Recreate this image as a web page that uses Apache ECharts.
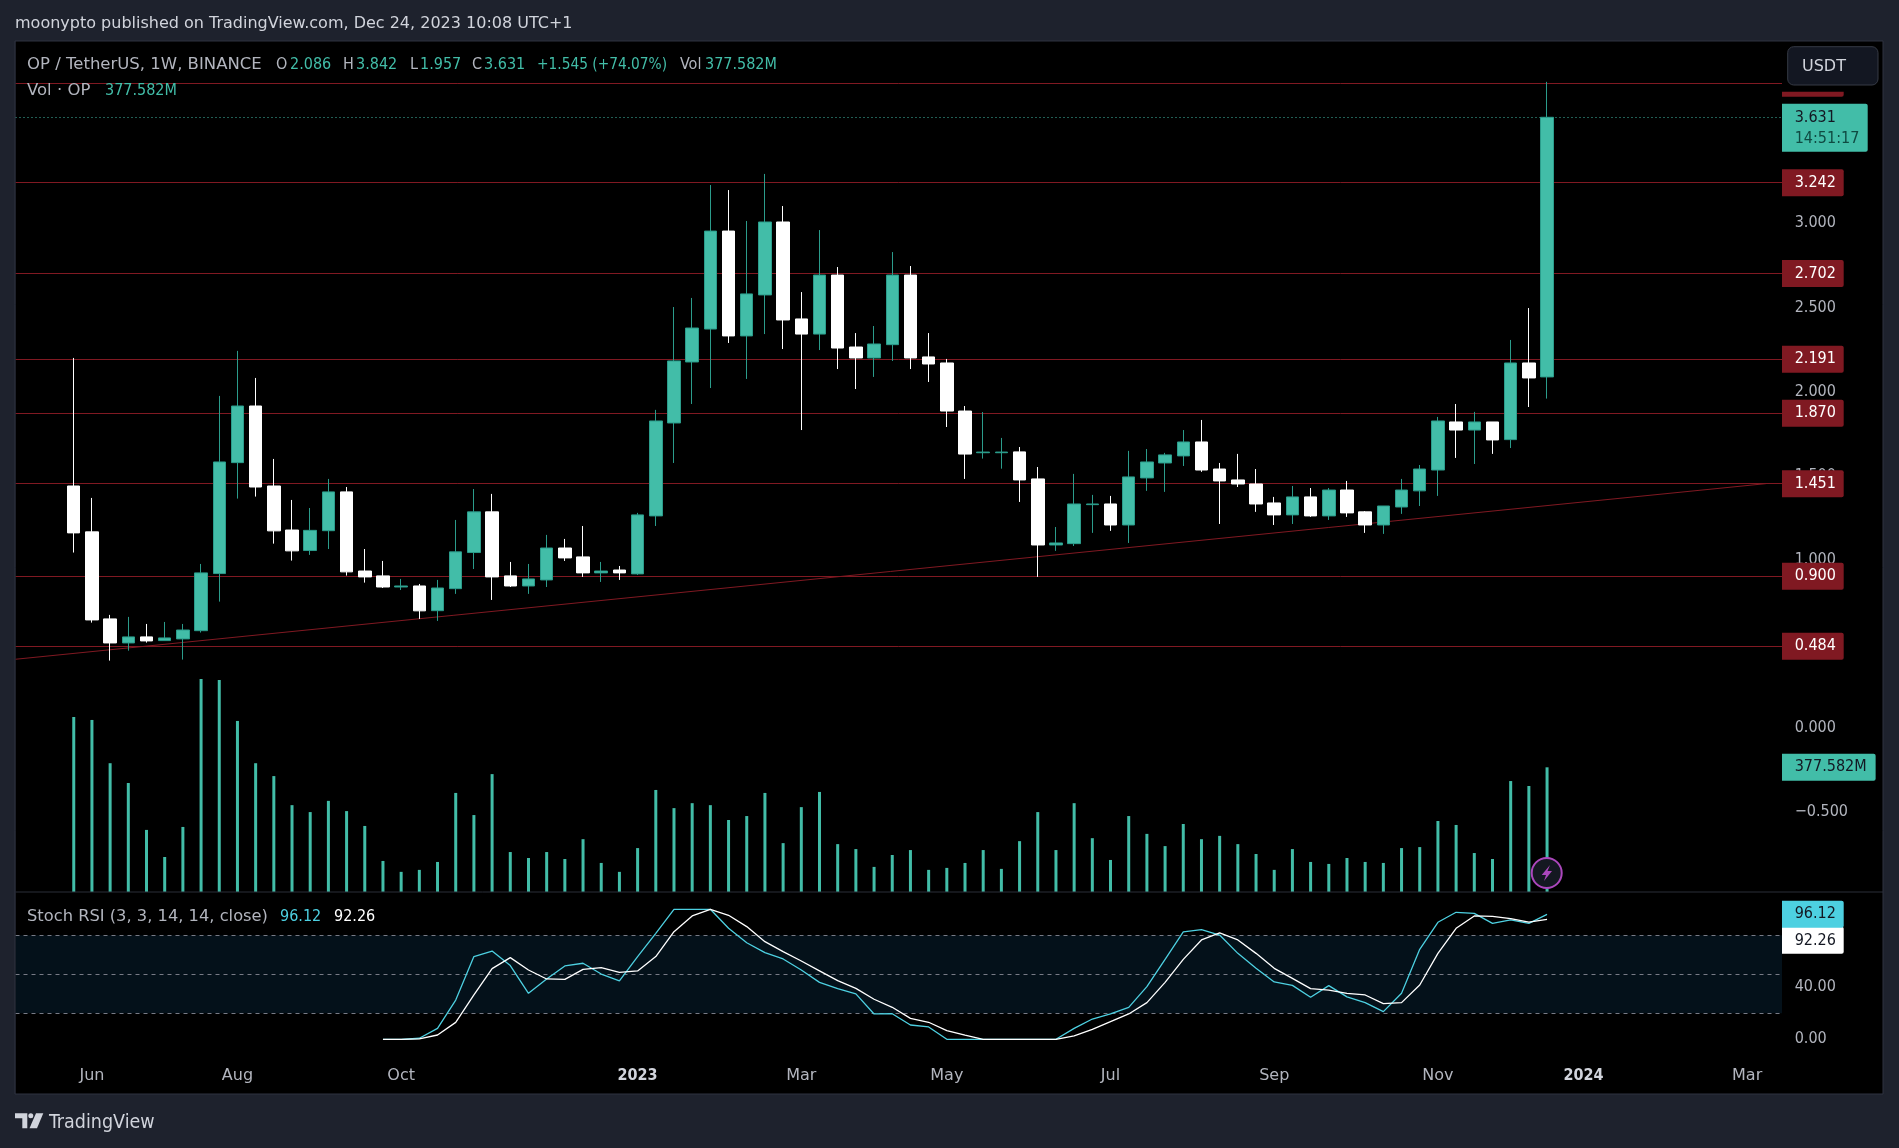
<!DOCTYPE html>
<html>
<head>
<meta charset="utf-8">
<title>OP / TetherUS</title>
<script src="https://cdn.jsdelivr.net/npm/echarts@6/dist/echarts.min.js"></script>
<style>
html, body { margin: 0; padding: 0; background: #1e222d; }
#chart { width: 1899px; height: 1148px; }
</style>
</head>
<body>
<div id="chart"></div>
<script>
var weeks = [
    '2022-05-30','2022-06-06','2022-06-13','2022-06-20','2022-06-27','2022-07-04','2022-07-11','2022-07-18','2022-07-25',
    '2022-08-01','2022-08-08','2022-08-15','2022-08-22','2022-08-29','2022-09-05','2022-09-12','2022-09-19','2022-09-26',
    '2022-10-03','2022-10-10','2022-10-17','2022-10-24','2022-10-31','2022-11-07','2022-11-14','2022-11-21','2022-11-28',
    '2022-12-05','2022-12-12','2022-12-19','2022-12-26','2023-01-02','2023-01-09','2023-01-16','2023-01-23','2023-01-30',
    '2023-02-06','2023-02-13','2023-02-20','2023-02-27','2023-03-06','2023-03-13','2023-03-20','2023-03-27','2023-04-03',
    '2023-04-10','2023-04-17','2023-04-24','2023-05-01','2023-05-08','2023-05-15','2023-05-22','2023-05-29','2023-06-05',
    '2023-06-12','2023-06-19','2023-06-26','2023-07-03','2023-07-10','2023-07-17','2023-07-24','2023-07-31','2023-08-07',
    '2023-08-14','2023-08-21','2023-08-28','2023-09-04','2023-09-11','2023-09-18','2023-09-25','2023-10-02','2023-10-09',
    '2023-10-16','2023-10-23','2023-10-30','2023-11-06','2023-11-13','2023-11-20','2023-11-27','2023-12-04','2023-12-11','2023-12-18'
];

var opens = [
    1.437,1.164,0.646,0.503,0.539,0.517,0.527,0.576,0.916,1.576,1.913,1.437,1.175,1.053,1.171,1.402,0.931,0.902,0.836,0.842,
    0.695,0.826,1.041,1.283,0.902,0.842,0.878,1.068,1.015,0.920,0.937,0.914,1.259,1.812,2.175,2.371,2.954,2.330,2.574,3.008,
    2.431,2.341,2.692,2.264,2.199,2.278,2.692,2.205,2.169,1.883,1.635,1.635,1.640,1.479,1.086,1.094,1.326,1.330,1.205,1.485,
    1.574,1.616,1.699,1.538,1.473,1.449,1.336,1.265,1.372,1.259,1.413,1.283,1.205,1.312,1.408,1.532,1.818,1.770,1.818,1.713,2.169,2.086
];
var closes = [
    1.158,0.640,0.503,0.539,0.515,0.533,0.580,0.920,1.580,1.913,1.431,1.170,1.051,1.173,1.402,0.926,0.896,0.836,0.842,0.694,
    0.830,1.045,1.283,0.896,0.842,0.884,1.068,1.009,0.920,0.931,0.920,1.265,1.824,2.181,2.377,2.954,2.330,2.580,3.008,2.425,
    2.341,2.692,2.258,2.199,2.282,2.692,2.199,2.163,1.883,1.627,1.639,1.639,1.473,1.086,1.098,1.330,1.330,1.205,1.491,1.580,
    1.622,1.699,1.532,1.467,1.449,1.330,1.265,1.372,1.259,1.413,1.277,1.205,1.318,1.413,1.538,1.824,1.770,1.818,1.711,2.169,2.080,3.631
];
var lows = [
    1.041,0.624,0.398,0.457,0.505,0.517,0.404,0.565,0.749,1.362,1.374,1.094,0.993,1.027,1.062,0.904,0.862,0.830,0.818,0.646,
    0.634,0.795,0.943,0.759,0.836,0.795,0.836,0.991,0.896,0.866,0.878,0.908,1.199,1.574,1.925,2.020,2.288,2.074,2.341,2.252,
    1.770,2.246,2.133,2.014,2.086,2.181,2.133,2.056,1.788,1.479,1.600,1.540,1.342,0.896,1.051,1.080,1.158,1.170,1.098,1.408,
    1.402,1.556,1.521,1.211,1.431,1.283,1.205,1.211,1.253,1.235,1.253,1.158,1.152,1.271,1.318,1.378,1.604,1.568,1.628,1.663,1.907,1.957
];
var highs = [
    2.199,1.366,0.670,0.658,0.616,0.628,0.616,0.973,1.973,2.241,2.080,1.598,1.354,1.306,1.479,1.431,1.062,0.991,0.884,0.854,
    0.878,1.235,1.419,1.390,0.985,0.973,1.146,1.122,1.199,0.985,0.961,1.277,1.890,2.502,2.556,3.228,3.198,3.014,3.294,3.103,
    2.591,2.960,2.740,2.347,2.389,2.829,2.746,2.347,2.193,1.913,1.877,1.723,1.669,1.550,1.193,1.509,1.384,1.378,1.646,1.657,
    1.634,1.770,1.830,1.574,1.628,1.538,1.372,1.437,1.425,1.425,1.467,1.288,1.318,1.479,1.562,1.848,1.925,1.878,1.818,2.306,2.496,3.842
];
var volumes = [
    530,521,390,330,188,106,197,645,642,518,390,351,263,242,276,245,200,94,61,67,
    91,300,233,357,121,103,121,100,160,88,61,133,309,254,269,263,218,230,300,148,
    257,303,145,130,76,112,127,67,73,88,127,70,154,242,127,269,163,97,230,176,
    139,206,160,170,145,115,67,130,91,85,103,91,88,133,136,215,203,118,100,336,321,377.582
];

// stoch rsi starts at the 18th week
var stochStart = 17;
var stochK = [
    0,0,0.8,8.4,30.2,63.6,67.9,56.7,35.4,46.4,56.4,58.5,50.2,44.9,63.6,81.5,100,100,100,85.4,
    74.3,66.7,61.8,53.3,43.8,39,34.9,19.5,19.7,11,9.5,0,0,0,0,0,0,0,8.4,15.6,
    19.5,24.6,40.5,61.5,82.6,84.3,80.2,66.1,54.6,44.1,41.5,32.3,41.3,32.6,28.2,21.3,35.4,69.2,90,97.7,
    96.9,89.2,91.8,89.2,96.12
];
var stochD = [
    0,0,0.3,3.3,13,34.1,54.4,62.8,53.3,46.4,46.1,53.8,55.1,51.5,52.6,63.6,82.8,94.9,100,95.4,
    86.7,75.1,67.4,60.2,52.6,45.1,39.2,30.8,24.6,16.1,13.1,6.7,3.3,0,0,0,0,0,2.6,7.7,
    13.6,19.5,28.2,43.8,61.5,76.4,81.8,76.4,66.1,54.6,46.9,39,37.9,35.4,34.1,27.4,28.2,41.8,66.1,85.4,
    94.9,94.6,92.8,90.2,92.26
];

var levels = [3.833, 3.242, 2.702, 2.191, 1.870, 1.451, 0.900, 0.484];
var trendDates = ['2022-05-07T14:00:00Z', '2024-03-11T05:00:00Z'];
var trendPrices = [0.406, 1.451];

var tickDates = ['2022-06-06','2022-08-01','2022-10-03','2023-01-02','2023-03-06','2023-05-01','2023-07-03','2023-09-04','2023-11-06','2024-01-01','2024-03-04'];
var tickLabels = ['Jun','Aug','Oct','2023','Mar','May','Jul','Sep','Nov','2024','Mar'];
var priceTicks = [-0.5, 0, 0.5, 1, 1.5, 2, 2.5, 3];
var stochTicks = [0, 40, 80];

// digits run narrow in the reference, letters wider
var FONT = '"DejaVu Sans Condensed", "DejaVu Sans", sans-serif';
var WORD_FONT = '"DejaVu Sans", sans-serif';
var FONT_SIZE = 16;
var TEAL = '#42bda8';
var TEAL_DARK = '#2b9c8b';
var RED = '#801922';
var GREY = '#b2b5be';
var BLUE = '#4dd0e1';

// x axis runs in weeks from the first candle
function weekNo(date) {
    return (Date.parse(date) - Date.parse(weeks[0])) / (7 * 24 * 3600 * 1000);
}
var xMin = weekNo('2022-05-07T14:00:00Z');
var xMax = weekNo('2024-03-17T10:00:00Z');
var tickWeeks = tickDates.map(weekNo);

function tagLabel(text, bg, color, offsetY) {
    return {
        show: true,
        position: 'end',
        distance: 0,
        formatter: text,
        backgroundColor: bg,
        color: color,
        fontFamily: FONT,
        fontSize: FONT_SIZE,
        lineHeight: 17,
        padding: [6, 8, 4, 12.7],
        width: 41,
        borderRadius: [0, 2, 2, 0],
        offset: [0, offsetY || 0]
    };
}

var levelLines = levels.map(function (v) {
    return {
        yAxis: v,
        lineStyle: { color: RED, width: 1, type: 'solid' },
        label: tagLabel(v.toFixed(3), RED, '#ffffff')
    };
});
// last price: dotted line and the two line tag with the countdown
levelLines.push({
    yAxis: closes[closes.length - 1],
    lineStyle: { color: TEAL, width: 1, type: [1, 3] },
    label: {
        show: true,
        position: 'end',
        distance: 0,
        formatter: '{a|3.631}\n{b|14:51:17}',
        backgroundColor: TEAL,
        padding: [4, 8, 2, 12.7],
        width: 65,
        borderRadius: [0, 2, 2, 0],
        offset: [0, 10.5],
        rich: {
            a: { color: '#131722', fontFamily: FONT, fontSize: FONT_SIZE, lineHeight: 21 },
            b: { color: '#0f4a42', fontFamily: FONT, fontSize: FONT_SIZE, lineHeight: 21 }
        }
    }
});

var option = {
    animation: false,
    backgroundColor: 'transparent',
    textStyle: { fontFamily: FONT },
    grid: [
        { left: 15.5, width: 1766.5, top: 41, height: 851 },
        { left: 15.5, width: 1766.5, top: 892, height: 160 }
    ],
    xAxis: [
        { type: 'value', gridIndex: 0, min: xMin, max: xMax, show: false },
        {
            type: 'value', gridIndex: 1, min: xMin, max: xMax,
            axisLine: { show: false },
            axisTick: { show: false },
            splitLine: { show: false },
            axisLabel: {
                customValues: tickWeeks,
                margin: 16,
                color: GREY,
                fontFamily: WORD_FONT,
                fontSize: FONT_SIZE,
                formatter: function (value) {
                    var label = tickLabels[tickWeeks.indexOf(value)];
                    return label.length === 4 ? '{year|' + label + '}' : label;
                },
                rich: { year: { color: '#d1d4dc', fontFamily: FONT, fontSize: FONT_SIZE, fontWeight: 'bold' } }
            }
        }
    ],
    yAxis: [
        {
            type: 'value', gridIndex: 0, position: 'right', min: -0.979, max: 4.085,
            axisLine: { show: false },
            axisTick: { show: false },
            splitLine: { show: false },
            axisLabel: {
                customValues: priceTicks,
                margin: 12.7,
                padding: [2, 0, 0, 0],
                color: GREY,
                fontFamily: FONT,
                fontSize: FONT_SIZE,
                formatter: function (value) { return value.toFixed(3).replace('-', '\u2212'); }
            }
        },
        { type: 'value', gridIndex: 0, min: 0, max: 2577, show: false },
        {
            type: 'value', gridIndex: 1, position: 'right', min: -9.77, max: 113.3,
            axisLine: { show: false },
            axisTick: { show: false },
            splitLine: { show: false },
            axisLabel: {
                customValues: stochTicks,
                margin: 12.7,
                padding: [2, 0, 0, 0],
                color: GREY,
                fontFamily: FONT,
                fontSize: FONT_SIZE,
                formatter: function (value) { return value.toFixed(2); }
            }
        }
    ],
    series: [
        {
            name: 'Trend',
            type: 'line',
            xAxisIndex: 0,
            yAxisIndex: 0,
            z: 1,
            symbol: 'none',
            lineStyle: { color: RED, width: 1 },
            data: trendDates.map(function (d, i) { return [weekNo(d), trendPrices[i]]; }),
            markLine: { z: 1, silent: true, symbol: 'none', precision: 3, data: levelLines }
        },
        {
            name: 'Vol',
            type: 'bar',
            xAxisIndex: 0,
            yAxisIndex: 1,
            z: 2,
            barWidth: 3,
            itemStyle: { color: TEAL },
            data: weeks.map(function (d, i) { return [weekNo(d), volumes[i]]; }),
            markLine: {
                silent: true,
                symbol: 'none',
                data: [{
                    yAxis: volumes[volumes.length - 1],
                    lineStyle: { color: 'transparent' },
                    label: {
                        show: true, position: 'end', distance: 0, formatter: '377.582M',
                        backgroundColor: TEAL, color: '#131722', fontFamily: FONT, fontSize: FONT_SIZE,
                        lineHeight: 17, padding: [6, 9, 4, 12.7], borderRadius: [0, 2, 2, 0]
                    }
                }]
            }
        },
        {
            name: 'OP',
            type: 'candlestick',
            xAxisIndex: 0,
            yAxisIndex: 0,
            z: 3,
            barWidth: 13,
            encode: { x: 0, y: [1, 2, 3, 4] },
            itemStyle: { color: TEAL, color0: '#ffffff', borderColor: TEAL_DARK, borderColor0: '#ffffff', borderWidth: 1 },
            data: weeks.map(function (d, i) { return [weekNo(d), opens[i], closes[i], lows[i], highs[i]]; })
        },
        {
            name: 'K',
            type: 'line',
            xAxisIndex: 1,
            yAxisIndex: 2,
            z: 3,
            symbol: 'none',
            lineStyle: { color: BLUE, width: 1.3 },
            data: stochK.map(function (v, i) { return [weekNo(weeks[stochStart + i]), v]; }),
            markArea: {
                silent: true,
                itemStyle: { color: '#04111a' },
                data: [[{ yAxis: 80 }, { yAxis: 20 }]]
            },
            markLine: {
                silent: true,
                symbol: 'none',
                data: [{
                    yAxis: stochK[stochK.length - 1],
                    lineStyle: { color: 'transparent' },
                    label: tagLabel('96.12', BLUE, '#131722')
                }]
            }
        },
        {
            name: 'D',
            type: 'line',
            xAxisIndex: 1,
            yAxisIndex: 2,
            z: 4,
            symbol: 'none',
            lineStyle: { color: '#ffffff', width: 1.3 },
            data: stochD.map(function (v, i) { return [weekNo(weeks[stochStart + i]), v]; }),
            markLine: {
                z: 2,
                silent: true,
                symbol: 'none',
                label: { show: false },
                data: [
                    { yAxis: 80, lineStyle: { color: '#787b86', width: 1, type: [4, 4] } },
                    { yAxis: 50, lineStyle: { color: '#787b86', width: 1, type: [4, 4] } },
                    { yAxis: 20, lineStyle: { color: '#787b86', width: 1, type: [4, 4] } },
                    { yAxis: stochD[stochD.length - 1], lineStyle: { color: 'transparent' }, label: tagLabel('92.26', '#ffffff', '#131722', 21) }
                ]
            }
        }
    ],
    graphic: []
};

// legend texts, frame and the bits of tradingview chrome
function text(x, y, str, color, font, size) {
    return {
        type: 'text', z: 70, x: x, y: y, silent: true,
        style: { text: str, fill: color, font: (size || FONT_SIZE) + 'px ' + (font || FONT), verticalAlign: 'middle' }
    };
}
var g = option.graphic;
g.push({ type: 'rect', z: -1, silent: true, shape: { x: 15.5, y: 41, width: 1867.5, height: 1053 }, style: { fill: '#000000' } });
g.push({ type: 'rect', z: 50, silent: true, shape: { x: 1782, y: 41, width: 101, height: 50.7 }, style: { fill: '#000000' } });
g.push({ type: 'rect', z: 51, silent: true, shape: { x: 1787.7, y: 46.7, width: 90.3, height: 38.3, r: 6 }, style: { fill: '#131722', stroke: '#363a45', lineWidth: 1 } });
g.push({ type: 'line', z: 60, silent: true, shape: { x1: 15.5, y1: 892, x2: 1883, y2: 892 }, style: { stroke: '#2a2e39', lineWidth: 1 } });
g.push({ type: 'rect', z: 60, silent: true, shape: { x: 15, y: 41, width: 1868, height: 1053 }, style: { fill: 'none', stroke: '#2e3340', lineWidth: 1 } });
g.push(text(15, 24, 'moonypto published on TradingView.com, Dec 24, 2023 10:08 UTC+1', '#d1d4dc', WORD_FONT));
g.push(text(1802, 67, 'USDT', '#d1d4dc', WORD_FONT));

var legendTop = [
    ['OP / TetherUS, 1W, BINANCE', 27, GREY, WORD_FONT, 16.5], ['O', 276, GREY], ['2.086', 290, TEAL], ['H', 343, GREY], ['3.842', 356, TEAL],
    ['L', 410, GREY], ['1.957', 420, TEAL], ['C', 472, GREY], ['3.631', 484, TEAL], ['+1.545 (+74.07%)', 537, TEAL, FONT, 15.3],
    ['Vol', 680, GREY], ['377.582M', 705, TEAL]
];
legendTop.forEach(function (t) { g.push(text(t[1], 65, t[0], t[2], t[3], t[4])); });
g.push(text(27, 91, 'Vol \u00b7 OP', GREY, WORD_FONT, 16.5));
g.push(text(105, 91, '377.582M', TEAL));
g.push(text(27, 917, 'Stoch RSI (3, 3, 14, 14, close)', GREY, WORD_FONT, 16.3));
g.push(text(280, 917, '96.12', BLUE));
g.push(text(334, 917, '92.26', '#ffffff'));

// replay button on the last volume bar
g.push({ type: 'circle', z: 65, silent: true, shape: { cx: 1546.7, cy: 873, r: 15 }, style: { fill: '#141821', stroke: '#ab47bc', lineWidth: 2 } });
g.push({
    type: 'polygon', z: 66, silent: true,
    shape: { points: [[1550, 865], [1541.7, 875], [1546, 875], [1544, 881], [1552, 871], [1547.5, 871]] },
    style: { fill: '#ab47bc' }
});

// footer logo
var logoColor = '#d1d4dc';
g.push({ type: 'polygon', z: 70, silent: true, shape: { points: [[15, 1113.3], [27.3, 1113.3], [27.3, 1128.3], [22.3, 1128.3], [22.3, 1118.3], [15, 1118.3]] }, style: { fill: logoColor } });
g.push({ type: 'circle', z: 70, silent: true, shape: { cx: 30.8, cy: 1115.8, r: 2.5 }, style: { fill: logoColor } });
g.push({ type: 'polygon', z: 70, silent: true, shape: { points: [[36, 1113.3], [43.3, 1113.3], [37, 1128.3], [29.5, 1128.3]] }, style: { fill: logoColor } });
g.push(text(49, 1123, 'TradingView', logoColor, FONT, 19.5));

var myChart = echarts.init(document.getElementById('chart'), null, { renderer: 'canvas', width: 1899, height: 1148 });
myChart.setOption(option);
</script>
</body>
</html>
